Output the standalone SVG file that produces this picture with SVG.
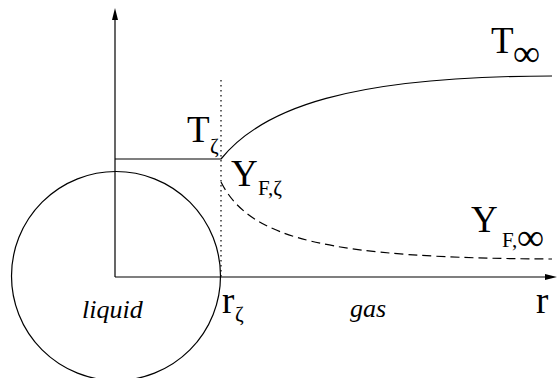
<svg xmlns="http://www.w3.org/2000/svg" width="557" height="378" viewBox="0 0 557 378">
<style>
.ln{fill:none;stroke:#000;stroke-width:1.2}
text{font-family:'Liberation Serif','Times New Roman','DejaVu Serif',serif;fill:#000}
.big{font-size:37px}
.sub{font-size:21px}
.inf{font-size:38px}
.it{font-size:26px;font-style:italic}
</style>
<rect width="557" height="378" fill="#fff"/>
<g id="droplet">
<circle cx="116" cy="276" r="104.5" class="ln"/>
</g>
<g id="connectors">
<line x1="115" y1="277" x2="115" y2="19" class="ln"/>
<polygon points="115,8 112,20 118,20" fill="#000"/>
<line x1="115" y1="277" x2="546" y2="277" class="ln"/>
<polygon points="557,277 545,274 545,280" fill="#000"/>
<line x1="221" y1="80" x2="221" y2="277" class="ln" stroke-dasharray="1.5,3.5"/>
<path d="M115,159 L221,159 C262,108 350,76 552,76" class="ln"/>
<path d="M221,182 C250,240 330,258 552,259" class="ln" stroke-dasharray="9,5"/>
</g>
<g id="labels">
<text x="187" y="142" class="big">T</text>
<text x="210" y="153" class="sub">ζ</text>
<text x="491" y="53" class="big">T</text>
<text x="513" y="66" class="inf">∞</text>
<text x="231" y="186" class="big">Y</text>
<text x="258" y="195" class="sub">F,ζ</text>
<text x="471" y="232" class="big">Y</text>
<text x="502" y="247" class="sub">F,</text>
<text x="517" y="250" class="inf">∞</text>
<text x="536" y="313" class="big">r</text>
<text x="222" y="313" class="big">r</text>
<text x="235" y="321" class="sub">ζ</text>
<text x="82" y="318" class="it">liquid</text>
<text x="350" y="317" class="it">gas</text>
</g>
</svg>
